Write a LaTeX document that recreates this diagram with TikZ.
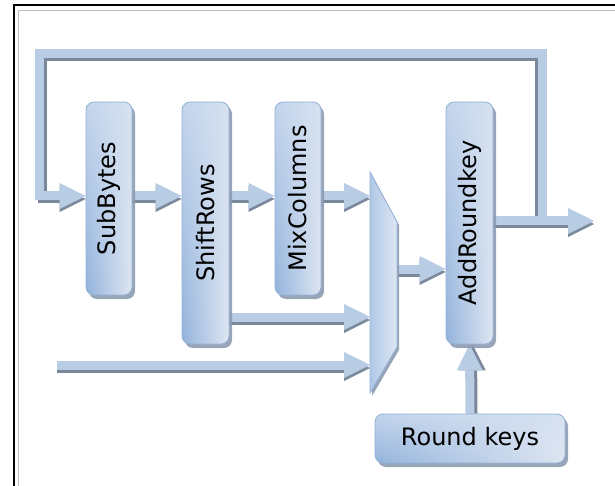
\documentclass[tikz,border=0pt]{standalone}
\usepackage{fontspec}
\setmainfont{DejaVu Sans}
\usepackage{graphicx}
\usetikzlibrary{arrows.meta,shadows,shadings}
\pgfdeclarelayer{background}
\pgfsetlayers{background,main}
\definecolor{band}{HTML}{B8CCE4}
\definecolor{bandshadow}{HTML}{7B889B}
\definecolor{boxedge}{HTML}{93B0D6}
\definecolor{boxshadow}{HTML}{8D9BB0}
\definecolor{bxul}{HTML}{C4D5EC}
\definecolor{bxur}{HTML}{D6E1F0}
\definecolor{bxll}{HTML}{93B3DC}
\definecolor{bxlr}{HTML}{DEE6F2}
\definecolor{muxl}{HTML}{B0C8E6}
\definecolor{muxr}{HTML}{DEE6F2}
\tikzset{
  blockbox/.style={rounded corners=8pt, draw=boxedge, line width=0.8pt,
    upper left=bxul, upper right=bxur, lower left=bxll, lower right=bxlr,
    drop shadow={shadow xshift=3pt, shadow yshift=-4pt, fill=boxshadow, opacity=0.9},
    inner sep=0pt, font=\fontsize{24}{28}\selectfont},
  flowtip/.style={-{Triangle[length=26pt,width=26pt,line width=0pt]}},
  flowshadow/.style={flowtip, draw=bandshadow, line width=9pt},
  flowband/.style={flowtip, draw=band, line width=9pt},
}
\begin{document}
\begin{tikzpicture}[x=1pt,y=-1pt]
\useasboundingbox (0,0) rectangle (615,486);
% frame
\draw[line width=2pt, black] (13.5,486) -- (13.5,5) -- (615,5);
\draw[line width=1.5pt, black!25] (18.5,486) -- (18.5,10.5) -- (615,10.5);

% row coordinates
\coordinate (r1) at (0,196);
\coordinate (r2) at (0,317);
\coordinate (r3) at (0,365);
\coordinate (r4) at (0,269);
\coordinate (r5) at (0,221);
\coordinate (in) at (57,365);
\coordinate (out) at (594,221);
\coordinate (lj) at (542.5,221);
\coordinate (ltr) at (542.5,54);
\coordinate (ltl) at (39,54);
\coordinate (lbl) at (39,196);
% inner-shadow corners of the loop
\coordinate (sj) at (539.5,221);
\coordinate (str) at (539.5,57);
\coordinate (stl) at (42,57);
\coordinate (sbl) at (42,199);

% mux corners
\coordinate (m1) at (370,172);
\coordinate (m2) at (397,222);
\coordinate (m3) at (397,347);
\coordinate (m4) at (370,393);

% boxes
\node[blockbox, minimum width=46pt, minimum height=193pt] (sub) at (109,198.5) {\rotatebox{90}{SubBytes}};
\node[blockbox, minimum width=47pt, minimum height=242pt] (shift) at (205.5,223) {\rotatebox{90}{ShiftRows}};
\node[blockbox, minimum width=46pt, minimum height=193pt] (mix) at (298,198.5) {\rotatebox{90}{MixColumns}};
\node[blockbox, minimum width=47pt, minimum height=242pt] (add) at (469.5,223) {\rotatebox{90}{AddRoundkey}};
\node[blockbox, minimum width=190pt, minimum height=49pt] (rk) at (470,438.5) {Round keys};

% mux
\path[draw=boxedge, line width=0.8pt, left color=muxl, right color=muxr,
  drop shadow={shadow xshift=2pt, shadow yshift=-3pt, fill=boxshadow, opacity=0.9}]
  (m1) -- (m2) -- (m3) -- (m4) -- cycle;

\begin{pgfonlayer}{background}
% connector shadows
\draw[flowshadow, line join=miter] (sj) -- (str) -- (stl) -- (sbl) -- ([yshift=-3pt]sub.west |- r1);
\draw[flowshadow] ([yshift=-3pt]sub.east |- r1) -- ([yshift=-3pt]shift.west |- r1);
\draw[flowshadow] ([yshift=-3pt]shift.east |- r1) -- ([yshift=-3pt]mix.west |- r1);
\draw[flowshadow] ([yshift=-3pt]mix.east |- r1) -- ([yshift=-3pt]m1 |- r1);
\draw[flowshadow] ([yshift=-3pt]shift.east |- r2) -- ([yshift=-3pt]m1 |- r2);
\draw[flowshadow] ([yshift=-3pt]in) -- ([yshift=-3pt]m1 |- r3);
\draw[flowshadow] ([yshift=-3pt]m2 |- r4) -- ([yshift=-3pt]add.west |- r4);
\draw[flowshadow] ([yshift=-3pt]add.east |- r5) -- ([yshift=-3pt]out);
\draw[flowshadow] ([xshift=3pt]rk.north) -- ([xshift=3pt]add.south);
% connector bands
\draw[flowband, line join=miter] (lj) -- (ltr) -- (ltl) -- (lbl) -- (sub.west |- r1);
\draw[flowband] (sub.east |- r1) -- (shift.west |- r1);
\draw[flowband] (shift.east |- r1) -- (mix.west |- r1);
\draw[flowband] (mix.east |- r1) -- (m1 |- r1);
\draw[flowband] (shift.east |- r2) -- (m1 |- r2);
\draw[flowband] (in) -- (m1 |- r3);
\draw[flowband] (m2 |- r4) -- (add.west |- r4);
\draw[flowband] (add.east |- r5) -- (out);
\draw[flowband] (rk.north) -- (add.south);
\end{pgfonlayer}
\end{tikzpicture}
\end{document}
